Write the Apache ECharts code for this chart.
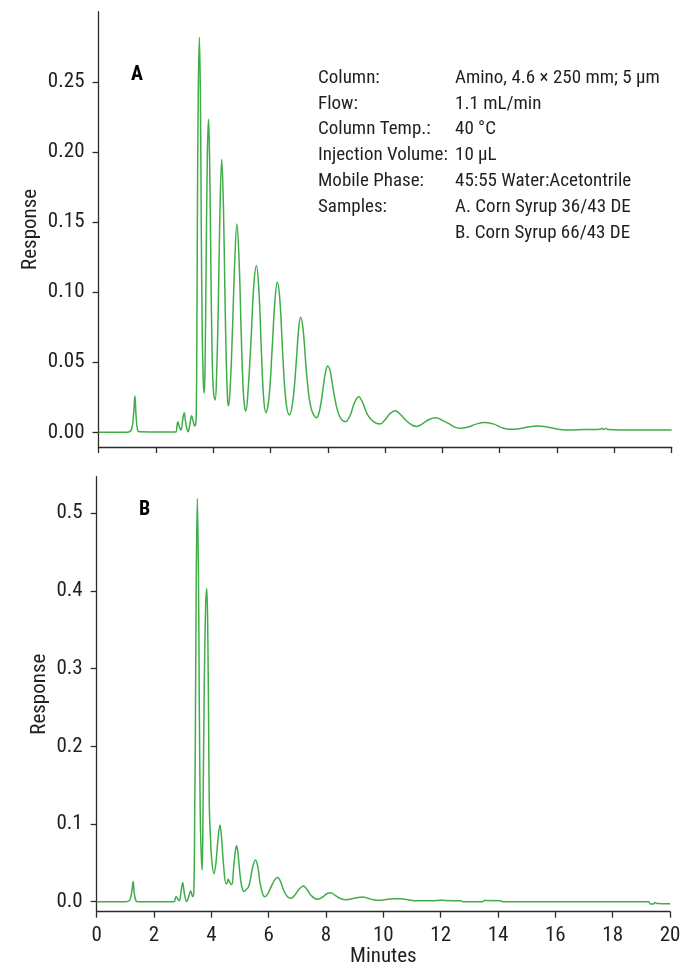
<!DOCTYPE html>
<html>
<head>
<meta charset="utf-8">
<title>Corn syrup chromatograms</title>
<script src="https://cdn.jsdelivr.net/npm/echarts@6/dist/echarts.min.js"></script>
<style>
  html, body { margin: 0; padding: 0; background: #ffffff; }
  #chart { width: 685px; height: 966px; }
</style>
</head>
<body>
<div id="chart"></div>
<script>
// Retention time (min) and detector response for sample A (Corn Syrup 36/43 DE)
const timeA = [0, 1.0, 1.15, 1.22, 1.27, 1.31, 1.36, 1.42, 2.0, 2.70, 2.74, 2.77, 2.82, 2.88, 2.94, 2.99, 3.04, 3.09, 3.13, 3.19, 3.25, 3.30, 3.36,
  3.39, 3.41, 3.43, 3.45, 3.48, 3.52, 3.555, 3.585, 3.62, 3.66, 3.69,
  3.72, 3.76, 3.80, 3.84, 3.88, 3.92, 3.97, 4.02, 4.07,
  4.12, 4.18, 4.23, 4.30, 4.36, 4.41, 4.46, 4.50, 4.53,
  4.59, 4.67, 4.75, 4.83, 4.91, 4.98, 5.05, 5.10, 5.14,
  5.22, 5.32, 5.42, 5.51, 5.60, 5.68, 5.76, 5.84,
  5.95, 6.06, 6.16, 6.24, 6.33, 6.43, 6.54, 6.66,
  6.78, 6.90, 6.98, 7.05, 7.14, 7.27, 7.42, 7.61,
  7.72, 7.84, 7.93, 8.00, 8.09, 8.22, 8.40, 8.62,
  8.78, 8.93, 9.08, 9.22, 9.40, 9.60, 9.82,
  10.00, 10.18, 10.35, 10.52, 10.75, 10.95, 11.10,
  11.30, 11.55, 11.77, 12.00, 12.26, 12.45, 12.63, 12.90, 13.20, 13.49, 13.80, 14.05, 14.35,
  14.70, 15.00, 15.32, 15.60, 15.95, 16.30, 16.70, 17.20, 17.50, 17.56, 17.62, 17.70, 17.78, 18.20, 18.80, 19.40, 20.0];
const respA = [0, 0, 0.002, 0.012, 0.0259, 0.012, 0.002, 0.0003, 0.0002, 0.0002, 0.005, 0.0076, 0.004, 0.0016, 0.009, 0.014, 0.007, 0.002, 0.0004, 0.006, 0.0118, 0.008, 0.0045,
  0.006, 0.012, 0.06, 0.15, 0.24, 0.2817, 0.24, 0.15, 0.07, 0.035, 0.028,
  0.05, 0.13, 0.20, 0.2232, 0.19, 0.12, 0.05, 0.027, 0.023,
  0.04, 0.09, 0.15, 0.1947, 0.16, 0.10, 0.05, 0.025, 0.0188,
  0.03, 0.07, 0.12, 0.1486, 0.12, 0.07, 0.03, 0.018, 0.0152,
  0.03, 0.065, 0.105, 0.1188, 0.10, 0.06, 0.025, 0.014,
  0.025, 0.06, 0.095, 0.107, 0.094, 0.055, 0.022, 0.0123,
  0.022, 0.05, 0.073, 0.082, 0.073, 0.04, 0.017, 0.0104,
  0.016, 0.032, 0.044, 0.0473, 0.043, 0.027, 0.012, 0.0076,
  0.012, 0.021, 0.0254, 0.021, 0.012, 0.0075, 0.0059,
  0.009, 0.0135, 0.0154, 0.013, 0.008, 0.005, 0.0042,
  0.006, 0.0093, 0.0104, 0.0085, 0.0057, 0.0035, 0.0028, 0.0038, 0.006, 0.0069, 0.0058, 0.0035, 0.0021,
  0.0025, 0.0038, 0.0044, 0.004, 0.0025, 0.0016, 0.0018, 0.0020, 0.0022, 0.0028, 0.002, 0.0027, 0.0019, 0.0016, 0.0016, 0.0016, 0.0016];

// Retention time (min) and detector response for sample B (Corn Syrup 66/43 DE)
const timeB = [0, 1.0, 1.15, 1.22, 1.27, 1.31, 1.36, 1.42, 2.70, 2.74, 2.77, 2.82, 2.88, 2.94, 3.0, 3.06, 3.14, 3.22, 3.28, 3.32, 3.35,
  3.39, 3.42, 3.44, 3.47, 3.51, 3.55, 3.58, 3.61, 3.63, 3.66, 3.68,
  3.71, 3.75, 3.80, 3.84, 3.88, 3.91, 3.93, 3.96, 4.01, 4.09,
  4.16, 4.23, 4.30, 4.36, 4.43, 4.51, 4.55, 4.59, 4.64, 4.71,
  4.78, 4.84, 4.88, 4.93, 5.0, 5.07, 5.14, 5.22, 5.29,
  5.36, 5.45, 5.54, 5.62, 5.70, 5.79, 5.87,
  5.98, 6.12, 6.23, 6.31, 6.40, 6.52, 6.64, 6.78,
  6.92, 7.06, 7.21, 7.33, 7.48, 7.70,
  7.88, 8.04, 8.17, 8.32, 8.50, 8.70,
  8.95, 9.12, 9.28, 9.45, 9.65, 9.88,
  10.15, 10.40, 10.60, 10.85, 11.2, 11.5, 11.9, 12.02, 12.15, 12.72, 12.76, 13.46, 13.52, 14.10, 14.15,
  19.25, 19.32, 19.42, 19.48, 19.55, 20.0];
const respB = [0, 0, 0.002, 0.012, 0.026, 0.011, 0.002, 0, 0, 0.004, 0.0064, 0.004, 0.0013, 0.012, 0.0245, 0.01, 0, 0.008, 0.0138, 0.009, 0.0064,
  0.015, 0.12, 0.2, 0.4, 0.519, 0.42, 0.25, 0.12, 0.08, 0.05, 0.041,
  0.12, 0.27, 0.38, 0.403, 0.33, 0.20, 0.12, 0.09, 0.055, 0.036,
  0.05, 0.08, 0.0987, 0.08, 0.045, 0.023, 0.024, 0.029, 0.025, 0.022,
  0.045, 0.066, 0.072, 0.062, 0.035, 0.018, 0.013, 0.016, 0.0185,
  0.028, 0.046, 0.0537, 0.045, 0.024, 0.01, 0.0064,
  0.011, 0.022, 0.029, 0.031, 0.027, 0.015, 0.007, 0.0043,
  0.009, 0.016, 0.0202, 0.016, 0.008, 0.003,
  0.006, 0.0105, 0.0115, 0.008, 0.004, 0.0024,
  0.004, 0.0055, 0.006, 0.0045, 0.0025, 0.0017,
  0.003, 0.0038, 0.0038, 0.0025, 0.0012, 0.0012, 0.0015, 0.0022, 0.0015, 0.0012, 0.0, 0.0, 0.0015, 0.0012, 0.0,
  0.0, -0.003, -0.003, -0.001, -0.0025, -0.0028];

// Axis ticks
const minuteTicks = [0, 2, 4, 6, 8, 10, 12, 14, 16, 18, 20];
const responseTicksA = [0, 0.05, 0.10, 0.15, 0.20, 0.25];
const responseTicksB = [0, 0.1, 0.2, 0.3, 0.4, 0.5];

// Method conditions printed on panel A
const conditionNames = ['Column:', 'Flow:', 'Column Temp.:', 'Injection Volume:', 'Mobile Phase:', 'Samples:', ''];
const conditionValues = ['Amino, 4.6 \u00d7 250 mm; 5 \u00b5m', '1.1 mL/min', '40 \u00b0C', '10 \u00b5L',
  '45:55 Water:Acetontrile', 'A. Corn Syrup 36/43 DE', 'B. Corn Syrup 66/43 DE'];

const FONT = "'Liberation Sans Narrow', 'Arial Narrow', 'Roboto Condensed', 'Liberation Sans', sans-serif";
const TEXT = '#231f20';
const AXIS = '#2b2b2b';
const TRACE = '#3fae49';

const pairs = (t, r) => t.map((x, i) => [x, r[i]]);

function xAxisFor(gridIndex, showLabels) {
  return {
    type: 'value', gridIndex, min: minuteTicks[0], max: minuteTicks[minuteTicks.length - 1], interval: 2,
    name: showLabels ? 'Minutes' : '',
    nameLocation: 'middle', nameGap: 35, nameMoveOverlap: false,
    nameTextStyle: { fontFamily: FONT, fontSize: 21, color: TEXT },
    axisLine: { show: true, onZero: false, lineStyle: { color: AXIS, width: 1.3 } },
    axisTick: { show: true, length: 6, lineStyle: { color: AXIS, width: 1.3 } },
    axisLabel: { show: showLabels, margin: 14, fontFamily: FONT, fontSize: 21, color: TEXT },
    splitLine: { show: false }
  };
}

function yAxisFor(gridIndex, min, max, ticks, digits, gap) {
  return {
    type: 'value', gridIndex, min, max,
    name: 'Response', nameLocation: 'middle', nameGap: gap, nameRotate: 90, nameMoveOverlap: false,
    nameTextStyle: { fontFamily: FONT, fontSize: 21, color: TEXT },
    axisLine: { show: true, onZero: false, lineStyle: { color: AXIS, width: 1.3 } },
    axisTick: { show: true, length: 6, customValues: ticks, lineStyle: { color: AXIS, width: 1.3 } },
    axisLabel: { show: true, margin: 14, customValues: ticks, fontFamily: FONT, fontSize: 21, color: TEXT,
      formatter: v => v.toFixed(digits) },
    splitLine: { show: false }
  };
}

const graphics = [
  { type: 'text', left: 131, top: 65, style: { text: 'A', font: "bold 20px " + FONT, fill: '#000' } },
  { type: 'text', left: 139, top: 500, style: { text: 'B', font: "bold 20px " + FONT, fill: '#000' } }
];
conditionNames.forEach((n, i) => {
  const y = 78 + i * 25.8;
  if (n) graphics.push({ type: 'text', x: 318, y, style: { text: n, font: "19px " + FONT, fill: TEXT, verticalAlign: 'middle' } });
  graphics.push({ type: 'text', x: 455, y, style: { text: conditionValues[i], font: "19px " + FONT, fill: TEXT, verticalAlign: 'middle' } });
});

const chart = echarts.init(document.getElementById('chart'), null, { renderer: 'canvas' });
chart.setOption({
  backgroundColor: '#ffffff',
  animation: false,
  grid: [
    { left: 98.5, top: 11.7, width: 573.2, height: 435.3, outerBoundsMode: 'none', containLabel: false },
    { left: 96.7, top: 476.7, width: 573.3, height: 435, outerBoundsMode: 'none', containLabel: false }
  ],
  xAxis: [xAxisFor(0, false), xAxisFor(1, true)],
  yAxis: [
    yAxisFor(0, -0.0105, 0.30, responseTicksA, 2, 57),
    yAxisFor(1, -0.0129, 0.547, responseTicksB, 1, 46)
  ],
  series: [
    { type: 'line', xAxisIndex: 0, yAxisIndex: 0, data: pairs(timeA, respA), showSymbol: false,
      smooth: 0.4, lineStyle: { color: TRACE, width: 1.5 } },
    { type: 'line', xAxisIndex: 1, yAxisIndex: 1, data: pairs(timeB, respB), showSymbol: false,
      smooth: 0.4, lineStyle: { color: TRACE, width: 1.5 } }
  ],
  graphic: graphics
});
</script>
</body>
</html>
